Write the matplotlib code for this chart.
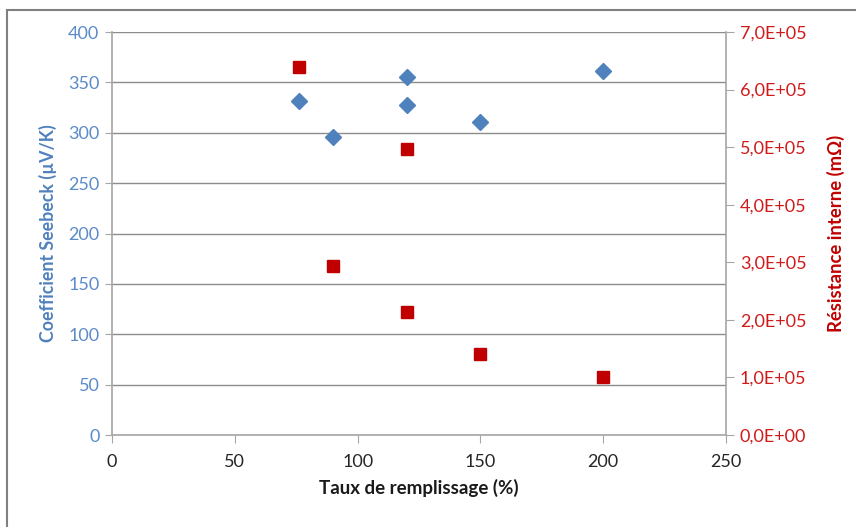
import matplotlib
matplotlib.use('Agg')
import matplotlib.pyplot as plt
from matplotlib.patches import Rectangle
from matplotlib.ticker import FuncFormatter

plt.rcParams['font.family'] = ['Lato', 'DejaVu Sans']

# data
taux_seebeck = [76, 90, 120, 120, 150, 200]
seebeck = [332, 296, 355, 328, 311, 361]
taux_resist = [76, 90, 120, 120, 150, 200]
resistance = [6.40e5, 2.94e5, 4.97e5, 2.14e5, 1.41e5, 1.01e5]

blue = '#4F81BD'
blue_txt = '#5B8BC9'
red = '#C00000'
red_txt = '#D01A1A'
grey = '#8C8C8C'

fig = plt.figure(figsize=(8.56, 5.27), dpi=100)
fig.patches.append(Rectangle((7 / 856, -0.1), 1.2, (527 - 10) / 527 + 0.1,
                             transform=fig.transFigure, fill=False,
                             edgecolor='#808080', linewidth=1.5))

ax = fig.add_axes([112 / 856, 92 / 527, 614 / 856, 403 / 527])
ax2 = ax.twinx()

ax.set_xlim(0, 250)
ax.set_ylim(0, 400)
ax2.set_ylim(0, 7e5)
ax.set_xticks(range(0, 251, 50))
ax.set_yticks(range(0, 401, 50))
ax2.set_yticks([i * 1e5 for i in range(8)])
ax2.yaxis.set_major_formatter(FuncFormatter(lambda v, p: f'{v:.1E}'.replace('.', ',')))

ax.grid(axis='y', color=grey, linewidth=1)
ax.set_axisbelow(True)
for a in (ax, ax2):
    a.spines['top'].set_visible(False)
    for s in ('left', 'right', 'bottom'):
        a.spines[s].set_color('#A6A6A6')
        a.spines[s].set_linewidth(1.2)
ax.spines['right'].set_visible(False)
ax2.spines['left'].set_visible(False)
ax2.spines['bottom'].set_visible(False)

ax.tick_params(axis='y', direction='out', length=5, color='#A6A6A6', labelcolor=blue_txt,
               labelsize=13, pad=4)
ax.tick_params(axis='x', direction='out', length=6, color='#A6A6A6', labelcolor='#262626',
               labelsize=13, pad=8)
ax2.tick_params(axis='y', direction='out', length=6, color='#A6A6A6', labelcolor=red_txt,
                labelsize=13, pad=4)

ax.plot(taux_seebeck, seebeck, linestyle='none', marker='D', markersize=8.3,
        color=blue, zorder=3)
ax2.plot(taux_resist, resistance, linestyle='none', marker='s', markersize=8.6,
         color=red, zorder=3)

ax.set_xlabel('Taux de remplissage (%)', fontsize=13.5, fontweight='bold', color='#1a1a1a',
              labelpad=6)
ax.set_ylabel('Coefficient Seebeck (µV/K)', fontsize=12.8, fontweight='bold', color=blue,
              labelpad=8)
ax2.set_ylabel('Résistance interne (mΩ)', fontsize=13.3, fontweight='bold', color=red,
               labelpad=15)

fig.savefig('out.png', dpi=100)
